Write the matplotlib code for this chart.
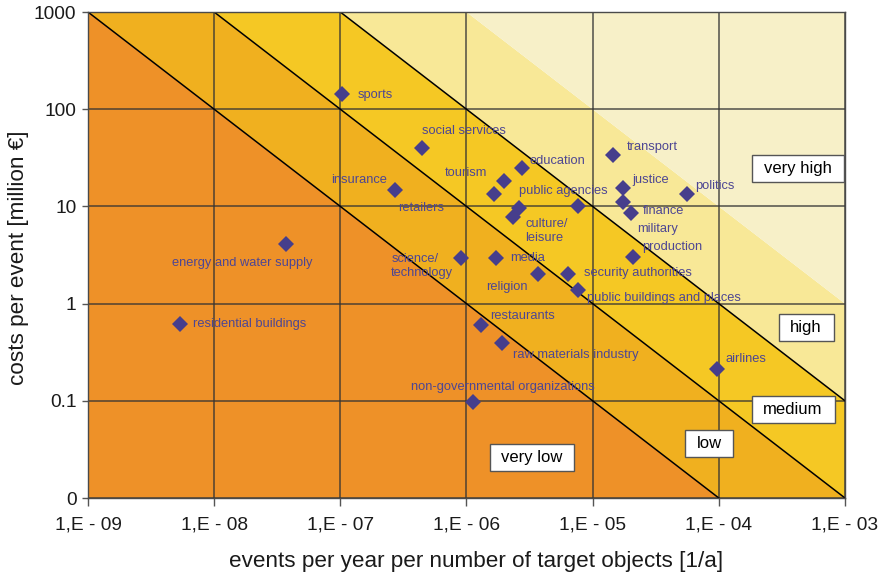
import numpy as np
import matplotlib
matplotlib.use("Agg")
import matplotlib.pyplot as plt
from matplotlib.path import Path
from matplotlib.ticker import FixedLocator, FixedFormatter, NullLocator

plt.rcParams['font.family'] = ['Liberation Sans', 'DejaVu Sans']

# Target object categories: event frequency [1/a] and cost per event [million €]
sectors = ["sports", "social services", "insurance", "retailers", "tourism",
           "education", "public agencies", "culture/\nleisure", None,
           "transport", "justice", "finance", "military", "politics",
           "production", "security authorities", "religion", "media",
           "science/\ntechnology", "public buildings and places",
           "restaurants", "raw materials industry",
           "non-governmental organizations", "energy and water supply",
           "residential buildings", "airlines"]
frequency = [1.04e-7, 4.4e-7, 2.7e-7, 1.65e-6, 2.0e-6,
             2.75e-6, 2.6e-6, 2.35e-6, 7.6e-6,
             1.46e-5, 1.73e-5, 1.73e-5, 2.02e-5, 5.6e-5,
             2.08e-5, 6.35e-6, 3.7e-6, 1.72e-6,
             9.1e-7, 7.7e-6,
             1.31e-6, 1.92e-6,
             1.13e-6, 3.7e-8,
             5.4e-9, 9.75e-5]
cost = [145, 39.5, 14.8, 13.3, 18.2,
        24.7, 9.7, 7.8, 10.2,
        33.7, 15.4, 11.0, 8.6, 13.3,
        3.0, 2.04, 2.02, 2.96,
        2.96, 1.39,
        0.60, 0.39,
        0.098, 4.1,
        0.61, 0.214]

# Risk classes separated by constant products frequency * cost
risk_bounds = [1e-6, 1e-5, 1e-4, 1e-3]
risk_classes = ["very low", "low", "medium", "high", "very high"]
band_colors = ["#ee9128", "#f0b01f", "#f5c824", "#f8e897", "#f7f0c8"]

x_ticks = [1e-9, 1e-8, 1e-7, 1e-6, 1e-5, 1e-4, 1e-3]
x_tick_labels = ["1,E - 09", "1,E - 08", "1,E - 07", "1,E - 06",
                 "1,E - 05", "1,E - 04", "1,E - 03"]
y_ticks = [0.01, 0.1, 1, 10, 100, 1000]
y_tick_labels = ["0", "0.1", "1", "10", "100", "1000"]

# label placement: offset in pixels from the marker, horizontal alignment
label_layout = {
    "sports": (15, -1, "left"),
    "social services": (0, 17, "left"),
    "insurance": (-8, 10, "right"),
    "retailers": (-50, -14, "right"),
    "tourism": (-17, 8, "right"),
    "education": (8, 7, "left"),
    "public agencies": (0, 17, "left"),
    "culture/\nleisure": (12, -14, "left"),
    "transport": (13, 8, "left"),
    "justice": (10, 8, "left"),
    "finance": (20, -9, "left"),
    "military": (6, -16, "left"),
    "politics": (8, 8, "left"),
    "production": (9, 10, "left"),
    "security authorities": (16, 1, "left"),
    "religion": (-11, -13, "right"),
    "media": (14, 0, "left"),
    "science/\ntechnology": (-8, -8, "right"),
    "public buildings and places": (9, -8, "left"),
    "restaurants": (9, 9, "left"),
    "raw materials industry": (11, -12, "left"),
    "non-governmental organizations": (30, 15, "center"),
    "energy and water supply": (-44, -19, "center"),
    "residential buildings": (13, 0, "left"),
    "airlines": (8, 10, "left"),
}

# centres of the risk class boxes (data coordinates)
class_box_pos = {
    "very high": (4.25e-4, 24.4),
    "high": (4.92e-4, 0.573),
    "medium": (3.88e-4, 0.081),
    "low": (8.36e-5, 0.0367),
    "very low": (3.3e-6, 0.0264),
}

fig = plt.figure(figsize=(8.79, 5.78), dpi=100)
fig.subplots_adjust(left=0.1001, right=0.9613, bottom=0.1384, top=0.9792)
ax = fig.add_subplot(111)
ax.set_xscale("log")
ax.set_yscale("log")
ax.set_xlim(x_ticks[0], x_ticks[-1])
ax.set_ylim(y_ticks[0], y_ticks[-1])

# coloured risk bands
xs = np.array([x_ticks[0], x_ticks[-1]])
edges = [1e-14] + risk_bounds + [1e14]
for lo, hi, col in zip(edges[:-1], edges[1:], band_colors):
    ax.fill_between(xs, lo / xs, hi / xs, color=col, lw=0, zorder=-1)

# black iso-risk lines
for level in risk_bounds[:-1]:
    ax.plot(xs, level / xs, color="black", lw=1.1, zorder=1.5)

# grid
ax.set_axisbelow(True)
ax.grid(True, which="major", color="#333333", lw=1.1, alpha=0.85)

# sector markers
ax.plot(frequency, cost, ls="none", marker="D", markersize=8,
        color="#463e8c", markeredgewidth=0, zorder=3)

for name, fx, cy in zip(sectors, frequency, cost):
    if not name:
        continue
    dx, dy, ha = label_layout[name]
    ax.annotate(name, (fx, cy), xytext=(dx, dy), textcoords="offset pixels",
                ha=ha, va="center", multialignment="left", linespacing=1.25,
                fontsize=9.3, color="#4d4693", zorder=4)


def class_box(x0, y0, width, height, mutation_size):
    px = 0.7 * mutation_size
    py = 0.36 * mutation_size
    a0, b0 = x0 - px, y0 - py
    a1, b1 = x0 + width + px, y0 + height + py
    return Path([(a0, b0), (a1, b0), (a1, b1), (a0, b1), (a0, b0)],
                closed=True)


for name in risk_classes:
    bx, by = class_box_pos[name]
    ax.text(bx, by, name, ha="center", va="center", fontsize=12,
            color="black", zorder=5,
            bbox=dict(boxstyle=class_box, facecolor="white",
                      edgecolor="#555555", lw=1.0))

# axes, ticks and labels
ax.xaxis.set_major_locator(FixedLocator(x_ticks))
ax.xaxis.set_major_formatter(FixedFormatter(x_tick_labels))
ax.xaxis.set_minor_locator(NullLocator())
ax.yaxis.set_major_locator(FixedLocator(y_ticks))
ax.yaxis.set_major_formatter(FixedFormatter(y_tick_labels))
ax.yaxis.set_minor_locator(NullLocator())
ax.tick_params(axis="x", length=6, width=1, color="#555555", pad=7.5,
               labelsize=13.8, labelcolor="#1a1a1a")
ax.tick_params(axis="y", length=4.3, width=1, color="#555555", pad=4,
               labelsize=13.8, labelcolor="#1a1a1a")
for sp in ax.spines.values():
    sp.set_color("#4a4a4a")
    sp.set_linewidth(1.0)

ax.set_xlabel("events per year per number of target objects [1/a]",
              fontsize=16.2, color="#1a1a1a")
ax.set_ylabel("costs per event [million €]", fontsize=16.2, color="#1a1a1a")
ax.xaxis.set_label_coords(0.512, -0.109)
ax.yaxis.set_label_coords(-0.078, 0.495)

fig.savefig("out.png", dpi=100)
